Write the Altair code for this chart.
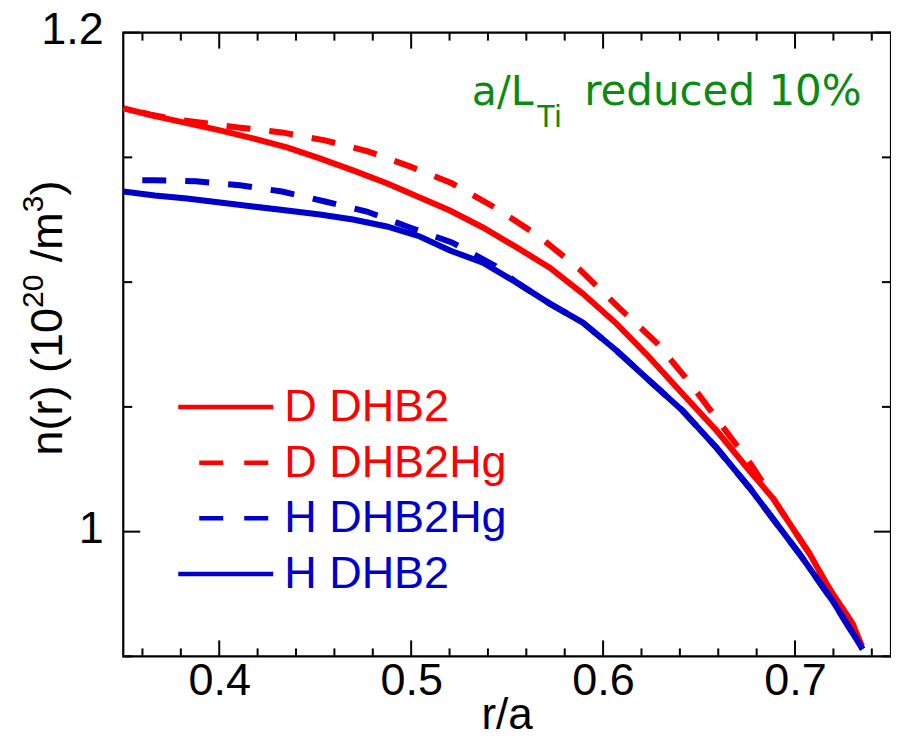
import altair as alt
import pandas as pd

# ---- data ----
series_names = ["D DHB2", "D DHB2Hg", "H DHB2Hg", "H DHB2"]
series_colors = ["#ff0000", "#ff0000", "#0000cc", "#0000cc"]
series_dashed = [False, True, True, False]

d_dhb2_r = [0.350, 0.3665, 0.3832, 0.4004, 0.4176, 0.4353, 0.4524, 0.4697, 0.4873, 0.5045, 0.5202, 0.5374,
            0.555, 0.5722, 0.5894, 0.6071, 0.6243, 0.6415, 0.6592, 0.6764, 0.6884, 0.7077, 0.7165, 0.7301, 0.7348]
d_dhb2_n = [1.1697, 1.1665, 1.1637, 1.1608, 1.1576, 1.154, 1.1496, 1.1448, 1.1396, 1.1339, 1.1287, 1.1219,
            1.1139, 1.1058, 1.0954, 1.0833, 1.0697, 1.0552, 1.0404, 1.0243, 1.0135, 0.991, 0.9789, 0.9629, 0.9542]

d_dhb2hg_r = [0.350, 0.3639, 0.3769, 0.3899, 0.4097, 0.4327, 0.4551, 0.4775, 0.4993, 0.5212, 0.5436, 0.566,
              0.5879, 0.6082, 0.6279, 0.6457, 0.6608, 0.6769, 0.6884, 0.7077, 0.7165, 0.7301, 0.7348]
d_dhb2hg_n = [1.1697, 1.1672, 1.1652, 1.1640, 1.162, 1.16, 1.1568, 1.1524, 1.1464, 1.1396, 1.1299, 1.1187,
              1.105, 1.0898, 1.0757, 1.0592, 1.0436, 1.0271, 1.0135, 0.991, 0.9789, 0.9629, 0.9542]

h_dhb2hg_r = [0.350, 0.366, 0.3879, 0.4108, 0.4327, 0.4551, 0.4769, 0.4993, 0.5212, 0.5436, 0.555,
              0.5722, 0.5894, 0.6071, 0.6243, 0.6415, 0.6592, 0.6764, 0.6894, 0.7024, 0.7196, 0.7352]
h_dhb2hg_n = [1.1408, 1.1408, 1.1404, 1.1388, 1.1363, 1.1323, 1.1283, 1.1219, 1.1159, 1.1066, 1.0998,
              1.0914, 1.0838, 1.0725, 1.0604, 1.0484, 1.0335, 1.0175, 1.0042, 0.991, 0.9722, 0.9529]

h_dhb2_r = [0.350, 0.3665, 0.3832, 0.4004, 0.4176, 0.4353, 0.4524, 0.4697, 0.4873, 0.5045, 0.5202, 0.5374,
            0.555, 0.5722, 0.5894, 0.6071, 0.6243, 0.6415, 0.6592, 0.6764, 0.6894, 0.7024, 0.7196, 0.7352]
h_dhb2_n = [1.1363, 1.1347, 1.1335, 1.1319, 1.1303, 1.1287, 1.1271, 1.1251, 1.1223, 1.1183, 1.1127, 1.1078,
            1.0998, 1.0914, 1.0838, 1.0725, 1.0604, 1.0484, 1.0335, 1.0175, 1.0042, 0.991, 0.9722, 0.9529]

series_r = [d_dhb2_r, d_dhb2hg_r, h_dhb2hg_r, h_dhb2_r]
series_n = [d_dhb2_n, d_dhb2hg_n, h_dhb2hg_n, h_dhb2_n]

x_domain = [0.35, 0.75]
y_domain = [0.95, 1.2]
x_major = [0.4, 0.5, 0.6, 0.7]
x_minor = [0.36, 0.38, 0.42, 0.44, 0.46, 0.48, 0.52, 0.54, 0.56, 0.58,
           0.62, 0.64, 0.66, 0.68, 0.72, 0.74]
y_major = [1.0, 1.2]
y_minor = [0.95, 1.05, 1.1, 1.15]

x_title = "r/a"
# y title pieces: (text, is_superscript, leading space)
y_title_parts = [("n(r) (10", False, False), ("20", True, False), ("/m", False, True),
                 ("3", True, False), (")", False, False)]
note_main = "a/L"
note_sub = "Ti"
note_rest = "reduced 10%"

# ---- layout ----
W, H = 768, 624
FONT = "Liberation Sans"
FS = 45
SUP = 30

xs = alt.Scale(domain=x_domain, nice=False, zero=False)
ys = alt.Scale(domain=y_domain, nice=False, zero=False)
xaxis = alt.Axis(values=x_major, format=".1f", ticks=False, tickSize=0, domain=False, grid=False,
                 labelFontSize=FS, labelFont=FONT, labelColor="black", labelPadding=2,
                 labelFlush=False, title=None)
yaxis = alt.Axis(values=y_major, format="~g", ticks=False, tickSize=0, domain=False, grid=False,
                 labelFontSize=FS, labelFont=FONT, labelColor="black", labelPadding=20,
                 labelFlush=False, labelOffset=-3, title=None)

layers = []

# data curves
for name, col, dashed, rr, nn in zip(series_names, series_colors, series_dashed, series_r, series_n):
    df = pd.DataFrame({"r": rr, "n": nn})
    props = dict(color=col, strokeWidth=6, strokeCap="butt")
    if dashed:
        props.update(strokeDash=[24, 19], strokeDashOffset=24)
    layers.append(
        alt.Chart(df).mark_line(**props).encode(
            x=alt.X("r:Q", scale=xs, axis=xaxis),
            y=alt.Y("n:Q", scale=ys, axis=yaxis),
            order="r:Q",
        )
    )

# inward ticks on all four sides
def xticks(vals, length):
    df = pd.DataFrame({"r": vals})
    out = []
    for y0, y1 in [(H, H - length), (0, length)]:
        out.append(alt.Chart(df).mark_rule(color="black", strokeWidth=2).encode(
            x=alt.X("r:Q", scale=xs, axis=xaxis), y=alt.value(y0), y2=alt.value(y1)))
    return out

def yticks(vals, length):
    df = pd.DataFrame({"n": vals})
    out = []
    for x0, x1 in [(0, length), (W, W - length)]:
        out.append(alt.Chart(df).mark_rule(color="black", strokeWidth=2).encode(
            y=alt.Y("n:Q", scale=ys, axis=yaxis), x=alt.value(x0), x2=alt.value(x1)))
    return out

layers += xticks(x_major, 16) + xticks(x_minor, 8) + yticks(y_major, 17) + yticks(y_minor, 9)

# legend drawn inside the plot
for i, (name, col, dashed) in enumerate(zip(series_names, series_colors, series_dashed)):
    yy = 374.5 + 55.7 * i
    ldf = pd.DataFrame({"label": [name]})
    if dashed:
        rule = alt.Chart(ldf).mark_rule(color=col, strokeWidth=4.5, strokeDash=[24, 21], strokeCap="butt").encode(
            x=alt.value(76), x2=alt.value(146), y=alt.value(yy))
    else:
        rule = alt.Chart(ldf).mark_rule(color=col, strokeWidth=4.5, strokeCap="butt").encode(
            x=alt.value(55), x2=alt.value(150), y=alt.value(yy))
    txt = alt.Chart(ldf).mark_text(align="left", baseline="middle", font=FONT, fontSize=FS, color=col).encode(
        x=alt.value(161), y=alt.value(yy), text="label:N")
    layers += [rule, txt]

# annotation
GREEN = "#0b8a12"
layers.append(alt.Chart(pd.DataFrame({"t": [note_main]})).mark_text(
    align="left", baseline="alphabetic", font="DejaVu Sans", fontSize=41, color=GREEN).encode(
    x=alt.value(348.7), y=alt.value(72.5), text="t:N"))
layers.append(alt.Chart(pd.DataFrame({"t": [note_sub]})).mark_text(
    align="left", baseline="alphabetic", font=FONT, fontSize=31, color=GREEN).encode(
    x=alt.value(413.5), y=alt.value(94.5), text="t:N"))
layers.append(alt.Chart(pd.DataFrame({"t": [note_rest]})).mark_text(
    align="right", baseline="alphabetic", font="DejaVu Sans", fontSize=42, color=GREEN).encode(
    x=alt.value(738.7), y=alt.value(72.5), text="t:N"))

# x axis title
layers.append(alt.Chart(pd.DataFrame({"t": [x_title]})).mark_text(
    align="center", baseline="alphabetic", font=FONT, fontSize=44, color="black").encode(
    x=alt.value(384), y=alt.value(697), text="t:N"))

# y axis title, rotated, built from main / superscript pieces (Arial-metric advances)
ADV = {"n": .556, "(": .333, "r": .333, ")": .333, " ": .278, "1": .556, "0": .556, "2": .556,
       "3": .556, "/": .278, "m": .833}
pos = 423
for text, sup, gap in y_title_parts:
    fs = SUP if sup else FS
    if gap:
        pos -= ADV[" "] * FS
    layers.append(alt.Chart(pd.DataFrame({"t": [text]})).mark_text(
        align="left", baseline="alphabetic", font=FONT, fontSize=fs, color="black", angle=270).encode(
        x=alt.value(-80 if sup else -61.3), y=alt.value(pos), text="t:N"))
    pos -= sum(ADV[c] for c in text) * fs

chart = alt.layer(*layers).properties(
    width=W, height=H,
    autosize=alt.AutoSizeParams(type="none"),
    padding={"left": 115.3, "top": 24.5, "right": 0, "bottom": 81.5},
    background="white",
).configure_view(stroke="black", strokeWidth=2.2)

chart.save("out.html", embed_options={"renderer": "svg", "actions": False})
